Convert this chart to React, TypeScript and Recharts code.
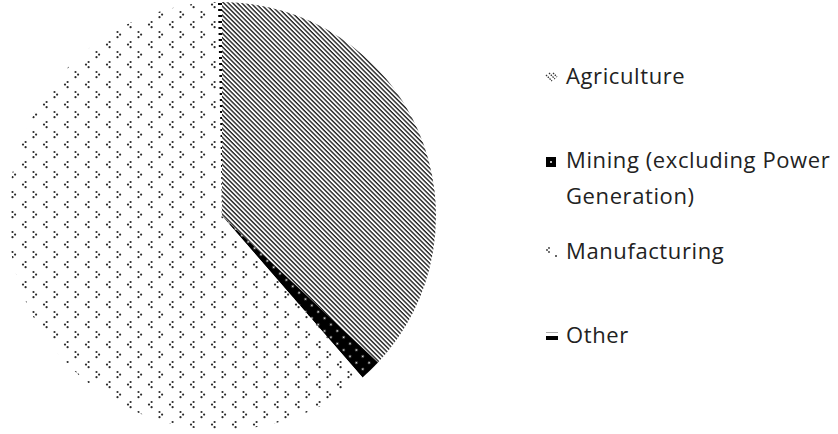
import { PieChart, Pie, Cell, Legend } from 'recharts'

const sectors = ['Agriculture', 'Mining (excluding Power Generation)', 'Manufacturing', 'Other']
const shares = [37.0, 1.6, 61.1, 0.3]
const legendLines = [['Agriculture'], ['Mining (excluding Power', 'Generation)'], ['Manufacturing'], ['Other']]

const fills = ['url(#agri)', 'url(#mining)', 'url(#manuf)', 'url(#other)']
const rowTops = [64, 148, 239, 323]

const data = sectors.map((name, i) => ({ name, value: shares[i] }))

// three-dot chevron used by the manufacturing fill
function Chevron({ x, y, dir }: { x: number; y: number; dir: 1 | -1 }) {
  const tip = dir === 1 ? x : x + 2.6
  const back = dir === 1 ? x + 2.6 : x
  return (
    <g>
      <circle cx={back} cy={y} r={1.1} />
      <circle cx={tip} cy={y + 2.6} r={1.1} />
      <circle cx={back} cy={y + 5.2} r={1.1} />
    </g>
  )
}

function Patterns() {
  return (
    <svg width={0} height={0} style={{ position: 'absolute' }}>
      <defs>
        <pattern id="agri" width={4.4} height={3.2} patternUnits="userSpaceOnUse" patternTransform="rotate(45)">
          <rect width={4.4} height={3.2} fill="#fff" />
          <rect width={4.4} height={1.4} fill="#222" />
        </pattern>
        <pattern id="mining" width={9} height={9} patternUnits="userSpaceOnUse" patternTransform="rotate(45)">
          <rect width={9} height={9} fill="#000" />
          <circle cx={4.5} cy={4.5} r={1} fill="#fff" />
        </pattern>
        <pattern id="manuf" width={21} height={20} patternUnits="userSpaceOnUse">
          <rect width={21} height={20} fill="#fff" />
          <g fill="#2a2a2a">
            <Chevron x={2} y={2} dir={1} />
            <Chevron x={12.5} y={12} dir={-1} />
          </g>
        </pattern>
        <pattern id="other" width={6} height={6} patternUnits="userSpaceOnUse">
          <rect width={6} height={6} fill="#fff" />
          <rect y={3} width={6} height={2} fill="#000" />
        </pattern>
      </defs>
    </svg>
  )
}

function Marker({ i }: { i: number }) {
  if (i === 0)
    return (
      <svg width={16} height={14}>
        <g stroke="#333" strokeWidth={1.3} strokeDasharray="1.5 1">
          <line x1={2} y1={4} x2={8} y2={10} />
          <line x1={5} y1={2} x2={11} y2={8} />
          <line x1={9} y1={2} x2={13} y2={6} />
        </g>
      </svg>
    )
  if (i === 1)
    return (
      <svg width={16} height={14}>
        <rect x={2} y={2} width={10} height={10} fill="#000" />
        <circle cx={7} cy={7} r={1} fill="#fff" />
      </svg>
    )
  if (i === 2)
    return (
      <svg width={16} height={14}>
        <g fill="#333">
          <circle cx={5} cy={2} r={0.9} />
          <circle cx={3} cy={4} r={0.9} />
          <circle cx={5} cy={6} r={0.9} />
          <circle cx={12} cy={10} r={1} />
        </g>
      </svg>
    )
  return (
    <svg width={16} height={14}>
      <rect x={2} y={2} width={12} height={1} fill="#aaa" />
      <rect x={2} y={6} width={12} height={4} fill="#000" />
    </svg>
  )
}

function SectorLegend() {
  return (
    <div style={{ position: 'relative', width: 300, height: 434 }}>
      {legendLines.map((lines, i) => (
        <div key={i} style={{ position: 'absolute', left: 0, top: rowTops[i], display: 'flex', alignItems: 'flex-start' }}>
          <div style={{ width: 22, paddingTop: 7 }}>
            <Marker i={i} />
          </div>
          <div
            style={{
              fontFamily: '"Open Sans", sans-serif',
              fontSize: 22,
              letterSpacing: 0.6,
              color: '#222',
              marginTop: -7,
            }}
          >
            {lines.map((l) => (
              <div key={l} style={{ lineHeight: '36px' }}>{l}</div>
            ))}
          </div>
        </div>
      ))}
    </div>
  )
}

export default function App() {
  return (
    <div style={{ position: 'absolute', left: 0, top: 0, background: '#fff' }}>
      <Patterns />
      <PieChart width={838} height={434} margin={{ top: 0, right: 0, bottom: 0, left: 0 }}>
        <Pie
          data={data}
          dataKey="value"
          nameKey="name"
          cx={222}
          cy={216}
          outerRadius={214}
          startAngle={90}
          endAngle={-270}
          stroke="none"
          isAnimationActive={false}
        >
          {data.map((d, i) => (
            <Cell key={d.name} fill={fills[i]} />
          ))}
        </Pie>
        <Legend
          layout="vertical"
          content={() => <SectorLegend />}
          wrapperStyle={{ position: 'absolute', left: 544, top: 0, width: 300, height: 434 }}
        />
      </PieChart>
    </div>
  )
}
